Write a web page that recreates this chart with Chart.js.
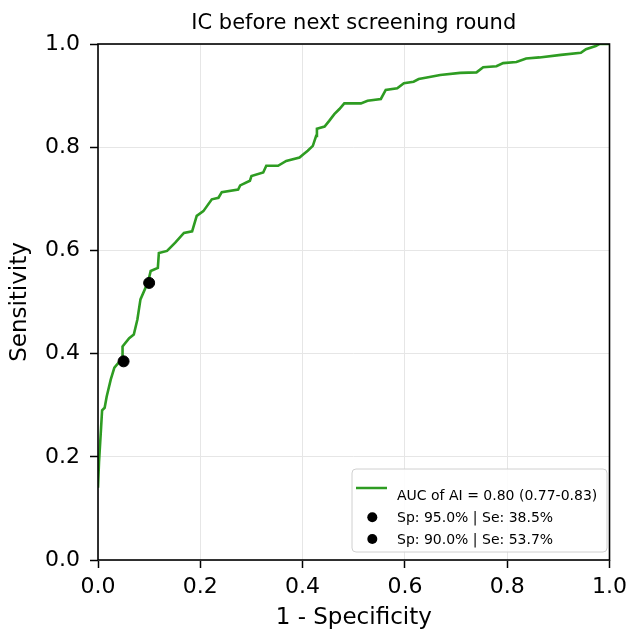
<!DOCTYPE html>
<html>
<head>
<meta charset="utf-8">
<script src="https://cdn.jsdelivr.net/npm/chart.js@4"></script>
<style>
  html, body { margin: 0; padding: 0; background: #fff; }
  #wrap { width: 633px; height: 632px; }
</style>
</head>
<body>
<div id="wrap"><canvas id="c" width="633" height="632"></canvas></div>
<script>
// ---- data ----
const rocFpr = [0, 0.002, 0.006, 0.008, 0.013, 0.017, 0.025, 0.032, 0.040, 0.047, 0.048,
  0.061, 0.070, 0.077, 0.083, 0.098, 0.103, 0.117, 0.119, 0.135, 0.151, 0.168, 0.184,
  0.193, 0.206, 0.2225, 0.2355, 0.242, 0.274, 0.278, 0.297, 0.300, 0.323, 0.329, 0.352,
  0.368, 0.394, 0.401, 0.410, 0.420, 0.4265, 0.428, 0.443, 0.452, 0.462, 0.472, 0.4815,
  0.514, 0.527, 0.553, 0.5625, 0.585, 0.598, 0.617, 0.627, 0.643, 0.669, 0.708, 0.740,
  0.753, 0.779, 0.792, 0.818, 0.837, 0.863, 0.905, 0.944, 0.954, 0.973, 0.980, 1.0];
const rocTpr = [0.14, 0.19, 0.256, 0.29, 0.295, 0.317, 0.35, 0.373, 0.382, 0.386, 0.414,
  0.43, 0.437, 0.466, 0.505, 0.539, 0.56, 0.566, 0.595, 0.599, 0.615, 0.634, 0.637,
  0.667, 0.676, 0.699, 0.702, 0.713, 0.718, 0.726, 0.735, 0.744, 0.751, 0.764, 0.764,
  0.7735, 0.780, 0.786, 0.793, 0.8025, 0.822, 0.836, 0.840, 0.851, 0.864, 0.874, 0.885,
  0.885, 0.890, 0.8935, 0.911, 0.914, 0.924, 0.927, 0.932, 0.935, 0.94, 0.944, 0.945,
  0.955, 0.957, 0.963, 0.965, 0.972, 0.974, 0.979, 0.983, 0.990, 0.996, 1.0, 1.0];
const opFpr = [0.05, 0.10];
const opTpr = [0.385, 0.537];
const legendLabels = ['AUC of AI = 0.80 (0.77-0.83)', 'Sp: 95.0% | Se: 38.5%', 'Sp: 90.0% | Se: 53.7%'];
const tickValues = [0, 0.2, 0.4, 0.6, 0.8, 1.0];
const chartTitle = 'IC before next screening round';
const xTitle = '1 - Specificity';
const yTitle = 'Sensitivity';

const FONT = "'DejaVu Sans', sans-serif";
const GREEN = '#2e9c22';

const rocPoints = rocFpr.map((x, i) => ({x: x, y: rocTpr[i]}));
const opPoints = opFpr.map((x, i) => ({x: x, y: opTpr[i]}));

const framePlugin = {
  id: 'frame',
  afterDatasetsDraw(chart) {
    const {ctx, chartArea: a} = chart;
    ctx.save();
    ctx.strokeStyle = '#000';
    ctx.lineWidth = 1.6;
    ctx.strokeRect(a.left, a.top, a.right - a.left, a.bottom - a.top);
    ctx.restore();
  },
  afterDraw(chart) {
    const {ctx, chartArea: a} = chart;
    ctx.save();
    // title
    ctx.fillStyle = '#000';
    ctx.font = "21px " + FONT;
    ctx.textAlign = 'center';
    ctx.textBaseline = 'alphabetic';
    ctx.fillText(chartTitle, (a.left + a.right) / 2, 29);
    // legend box
    const bx = 352, by = 469, bw = 255, bh = 83, r = 4;
    ctx.beginPath();
    ctx.moveTo(bx + r, by);
    ctx.lineTo(bx + bw - r, by);
    ctx.arcTo(bx + bw, by, bx + bw, by + r, r);
    ctx.lineTo(bx + bw, by + bh - r);
    ctx.arcTo(bx + bw, by + bh, bx + bw - r, by + bh, r);
    ctx.lineTo(bx + r, by + bh);
    ctx.arcTo(bx, by + bh, bx, by + bh - r, r);
    ctx.lineTo(bx, by + r);
    ctx.arcTo(bx, by, bx + r, by, r);
    ctx.closePath();
    ctx.fillStyle = 'rgba(255,255,255,0.85)';
    ctx.fill();
    ctx.strokeStyle = '#d0d0d0';
    ctx.lineWidth = 1;
    ctx.stroke();
    // entries
    ctx.strokeStyle = GREEN;
    ctx.lineWidth = 2.5;
    ctx.beginPath();
    ctx.moveTo(356, 488);
    ctx.lineTo(387, 488);
    ctx.stroke();
    ctx.fillStyle = '#000';
    [517.3, 539].forEach(y => {
      ctx.beginPath();
      ctx.arc(372.3, y, 5, 0, Math.PI * 2);
      ctx.fill();
    });
    ctx.font = "14px " + FONT;
    ctx.textAlign = 'left';
    ctx.textBaseline = 'alphabetic';
    ctx.fillText(legendLabels[0], 397, 500);
    ctx.fillText(legendLabels[1], 397, 522);
    ctx.fillText(legendLabels[2], 397, 543.5);
    ctx.restore();
  }
};

new Chart(document.getElementById('c'), {
  type: 'scatter',
  data: {
    datasets: [
      {
        type: 'line',
        data: rocPoints,
        borderColor: GREEN,
        borderWidth: 2.6,
        pointRadius: 0,
        fill: false,
        tension: 0,
        order: 2
      },
      {
        type: 'scatter',
        data: opPoints,
        backgroundColor: '#000',
        borderColor: '#000',
        pointRadius: 5.5,
        pointHoverRadius: 5.5,
        order: 1
      }
    ]
  },
  options: {
    responsive: false,
    animation: false,
    devicePixelRatio: 1,
    layout: { padding: { top: 44, right: 19, left: 0, bottom: 0 } },
    plugins: { legend: { display: false }, tooltip: { enabled: false }, title: { display: false } },
    scales: {
      x: {
        type: 'linear', min: 0, max: 1,
        afterBuildTicks(s) { s.ticks = tickValues.map(v => ({value: v})); },
        afterFit(s) { s.height = 72; },
        ticks: { color: '#000', font: { family: FONT, size: 22 }, padding: 6, callback: v => Number(v).toFixed(1) },
        grid: { color: '#e6e6e6', lineWidth: 1, tickColor: '#000', tickLength: 8, tickWidth: 1.5 },
        border: { display: false },
        title: { display: true, text: xTitle, color: '#000', font: { family: FONT, size: 23 }, padding: { top: 0, bottom: 0 } }
      },
      y: {
        type: 'linear', min: 0, max: 1,
        afterBuildTicks(s) { s.ticks = tickValues.map(v => ({value: v})); },
        afterFit(s) { s.width = 98; },
        ticks: { color: '#000', font: { family: FONT, size: 22 }, padding: 10, callback: v => Number(v).toFixed(1) },
        grid: { color: '#e6e6e6', lineWidth: 1, tickColor: '#000', tickLength: 8, tickWidth: 1.5 },
        border: { display: false },
        title: { display: true, text: yTitle, color: '#000', font: { family: FONT, size: 23 }, padding: { top: 6, bottom: 0 } }
      }
    }
  },
  plugins: [framePlugin]
});
</script>
</body>
</html>
